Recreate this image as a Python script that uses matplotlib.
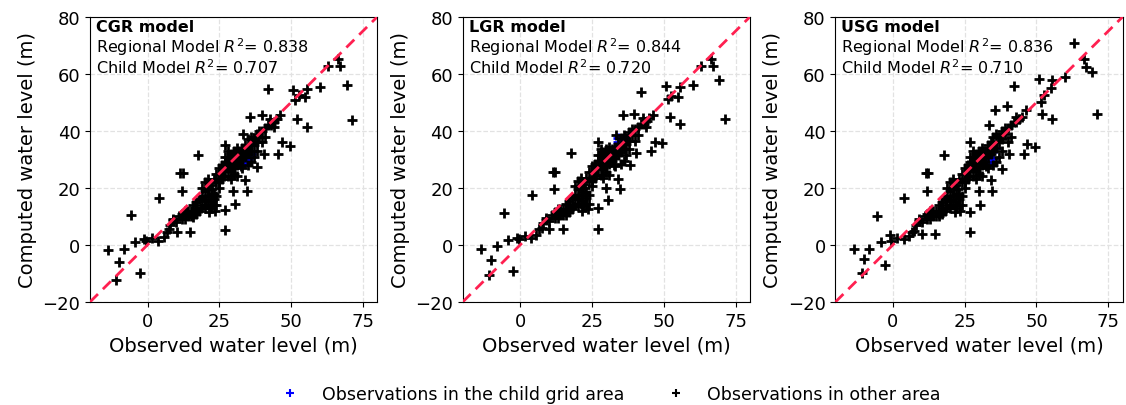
import matplotlib
matplotlib.use("Agg")
import matplotlib.pyplot as plt
from matplotlib.lines import Line2D

FIG_SIZE = (11.26, 4.06)
DPI = 100
LINE_RED = "#ff2050"

MODELS = ["CGR", "LGR", "USG"]
R2_REGIONAL = [0.838, 0.844, 0.836]
R2_CHILD = [0.707, 0.720, 0.710]

# observed heads outside the child grid (shared by all models)
obs_other = [
    -13.6, -10.1, -10.9, -8.2, -2.6, -5.7, -4.3, -1.1, 4.0, 3.8,
    5.6, 6.7, 10.2, 9.0, 14.8, 11.4, 12.2, 11.9, 13.7, 16.0,
    17.7, 27.0, 27.0, 29.9, 30.5, 34.6, 34.0, 33.4, 35.7, 39.8,
    42.1, 38.1, 40.4, 45.6, 46.8, 49.5, 43.9, 42.7, 46.2, 50.8,
    51.4, 52.0, 55.5, 52.6, 55.0, 55.5, 60.1, 63.0, 66.5, 67.1,
    69.4, 71.2, -0.5, 1.5, 7.5, 8.0, 18.5, 20.0, 21.5, 23.0,
    9.0, 10.0, 11.0, 12.0, 13.0, 14.0, 15.0, 16.0, 17.0, 15.0,
    17.0, 18.0, 19.0, 20.0, 20.0, 21.0, 21.0, 22.0, 22.0, 23.0,
    23.0, 24.0, 19.0, 18.0, 20.0, 21.0, 22.0, 22.0, 24.0, 25.0,
    24.0, 23.0, 21.0, 20.0, 19.0, 25.0, 26.0, 17.0, 16.0, 13.0,
    12.0, 14.0, 24.0, 25.0, 25.0, 26.0, 26.0, 27.0, 27.0, 27.0,
    27.0, 28.0, 28.0, 28.0, 28.0, 29.0, 29.0, 29.0, 29.0, 30.0,
    30.0, 30.0, 30.0, 31.0, 31.0, 31.0, 31.0, 32.0, 32.0, 32.0,
    33.0, 33.0, 33.0, 34.0, 34.0, 34.0, 35.0, 35.0, 35.0, 36.0,
    36.0, 36.0, 37.0, 37.0, 38.0, 38.0, 39.0, 39.0, 40.0, 41.0,
    42.0, 43.0, 44.0, 45.0, 38.0, 37.0, 36.0, 40.0, 41.0, 26.0,
    28.0, 30.0, 33.0, 35.0, 31.0, 29.0, 22.5, 23.5, 26.5, 32.5,
]

cgr_other = [
    -1.9, -6.0, -12.2, -1.5, -10.0, 10.6, 1.0, 2.0, 16.4, 1.3,
    2.8, 4.5, 4.5, 8.6, 4.5, 25.3, 25.3, 18.8, 11.5, 9.8,
    31.4, 5.1, 12.1, 18.8, 14.5, 18.8, 22.6, 39.0, 44.8, 45.4,
    54.8, 27.3, 32.0, 32.0, 36.1, 34.6, 41.3, 44.3, 45.4, 54.2,
    50.7, 44.0, 41.3, 52.5, 51.8, 54.8, 55.4, 62.9, 65.3, 62.9,
    56.2, 43.7, 1.5, 2.5, 5.5, 7.0, 13.0, 15.5, 11.5, 14.0,
    9.0, 8.0, 10.0, 9.0, 9.0, 10.0, 10.0, 11.0, 11.0, 12.0,
    13.0, 12.0, 14.0, 13.0, 16.0, 14.0, 17.0, 15.0, 18.0, 16.0,
    18.0, 17.0, 17.0, 16.0, 19.0, 20.0, 13.0, 21.0, 14.0, 20.0,
    22.0, 23.0, 23.0, 22.0, 20.0, 22.0, 24.0, 15.0, 14.0, 12.0,
    11.0, 12.0, 25.0, 25.0, 27.0, 26.0, 28.0, 26.0, 29.0, 31.0,
    35.0, 27.0, 29.0, 31.0, 33.0, 26.0, 28.0, 30.0, 32.0, 27.0,
    29.0, 31.0, 33.0, 28.0, 30.0, 32.0, 34.0, 29.0, 31.0, 33.0,
    30.0, 32.0, 34.0, 31.0, 33.0, 35.0, 32.0, 34.0, 37.0, 33.0,
    35.0, 38.0, 35.0, 37.0, 36.0, 39.0, 38.0, 40.0, 40.0, 41.0,
    42.0, 42.0, 43.0, 44.0, 33.0, 31.0, 29.0, 36.0, 38.0, 23.0,
    24.0, 25.0, 27.0, 28.0, 24.0, 23.0, 19.5, 12.0, 24.0, 27.5,
]

lgr_other = [
    -1.3, -5.4, -10.7, -0.4, -9.3, 11.2, 1.6, 2.4, 17.6, 2.4,
    3.5, 5.7, 5.7, 8.8, 5.7, 25.6, 25.6, 19.7, 12.0, 10.5,
    32.2, 5.7, 12.9, 20.0, 15.6, 19.7, 23.0, 38.6, 45.4, 46.0,
    53.6, 28.1, 32.3, 32.8, 36.1, 35.7, 41.3, 44.5, 45.4, 55.7,
    51.3, 44.8, 42.5, 52.4, 52.0, 55.4, 56.2, 62.9, 65.3, 62.9,
    57.7, 44.0, 2.0, 3.0, 6.0, 7.5, 13.5, 16.0, 12.0, 14.5,
    9.5, 8.5, 10.5, 9.5, 9.5, 10.5, 10.5, 11.5, 11.5, 12.5,
    13.5, 12.5, 14.5, 13.5, 16.5, 14.5, 17.5, 15.5, 18.5, 16.5,
    18.5, 17.5, 17.5, 16.5, 19.5, 20.5, 13.5, 21.5, 14.5, 20.5,
    22.5, 23.5, 23.5, 22.5, 20.5, 22.5, 24.5, 15.5, 14.5, 12.5,
    11.5, 12.5, 25.5, 25.5, 27.5, 26.5, 28.5, 26.5, 29.5, 31.5,
    36.0, 27.5, 29.5, 31.5, 33.5, 26.5, 28.5, 30.5, 32.5, 27.5,
    29.5, 31.5, 33.5, 28.5, 30.5, 32.5, 34.5, 29.5, 31.5, 33.5,
    30.5, 32.5, 34.5, 31.5, 33.5, 35.5, 32.5, 34.5, 37.5, 33.5,
    35.5, 38.5, 35.5, 37.5, 36.5, 39.5, 38.5, 40.5, 40.5, 41.5,
    42.5, 42.5, 43.5, 44.5, 33.5, 31.5, 29.5, 36.5, 38.5, 23.5,
    24.5, 25.5, 27.5, 28.5, 24.5, 23.5, 20.0, 12.5, 24.5, 28.0,
]

usg_other = [
    -1.5, -5.0, -10.0, -1.5, -7.1, 10.1, 1.0, 3.4, 16.4, 2.2,
    3.0, 4.5, 3.9, 8.5, 3.9, 25.3, 25.3, 18.8, 11.5, 10.0,
    31.4, 4.5, 11.5, 18.8, 13.9, 18.8, 22.6, 41.9, 47.2, 48.9,
    55.7, 26.7, 32.0, 32.0, 35.5, 34.3, 44.3, 45.0, 47.2, 58.3,
    50.3, 46.0, 44.3, 52.5, 55.0, 57.7, 58.9, 71.0, 65.3, 62.4,
    60.8, 46.0, 1.5, 2.5, 5.0, 7.0, 13.0, 15.5, 11.5, 14.0,
    9.0, 8.0, 10.0, 9.0, 9.0, 10.0, 10.0, 11.0, 11.0, 12.0,
    13.0, 12.0, 14.0, 13.0, 16.0, 14.0, 17.0, 15.0, 18.0, 16.0,
    18.0, 17.0, 17.0, 16.0, 19.0, 20.0, 13.0, 21.0, 14.0, 20.0,
    22.0, 23.0, 23.0, 22.0, 20.0, 22.0, 24.0, 15.0, 14.0, 12.0,
    11.0, 12.0, 25.0, 25.0, 27.0, 26.0, 28.0, 26.0, 29.0, 31.0,
    36.0, 27.0, 29.0, 31.0, 33.0, 26.0, 28.0, 30.0, 32.0, 27.0,
    29.0, 31.0, 33.0, 28.0, 30.0, 32.0, 34.0, 29.0, 31.0, 33.0,
    31.0, 33.0, 35.0, 32.0, 34.0, 36.0, 33.0, 35.0, 38.0, 34.0,
    36.0, 39.0, 36.0, 38.0, 37.0, 40.0, 39.0, 41.0, 41.0, 42.0,
    43.0, 43.0, 44.0, 45.0, 33.0, 31.0, 29.0, 36.0, 38.0, 23.0,
    24.0, 25.0, 27.0, 28.0, 24.0, 23.0, 19.5, 12.0, 24.0, 27.5,
]

# observations inside the child grid area
obs_child = [30.0, 31.0, 32.0, 33.0, 34.0, 34.0, 35.0, 36.0, 33.0, 32.0]
cgr_child = [29.0, 30.0, 31.0, 30.0, 29.0, 31.0, 30.0, 32.0, 28.0, 29.0]
lgr_child = [31.0, 32.0, 33.0, 34.5, 37.5, 36.0, 35.0, 36.5, 31.5, 33.0]
usg_child = [30.0, 31.5, 31.0, 31.4, 29.0, 33.0, 30.5, 34.0, 28.5, 30.0]

COMPUTED_OTHER = [cgr_other, lgr_other, usg_other]
COMPUTED_CHILD = [cgr_child, lgr_child, usg_child]

AX_LEFTS = [0.080, 0.411, 0.742]
AX_BOTTOM = 0.254
AX_W = 0.255
AX_H = 0.702


def draw_panel(ax, name, r2_reg, r2_child, comp_other, comp_child):
    ax.grid(True, linestyle="--", color="#e2e2e2", linewidth=0.9, zorder=0)
    ax.scatter(obs_child, comp_child, marker="+", color="blue", s=45,
               linewidths=2.0, zorder=2)
    ax.scatter(obs_other, comp_other, marker="+", color="black", s=45,
               linewidths=2.0, zorder=3)
    ax.plot([-20, 80], [-20, 80], linestyle="--", color=LINE_RED,
            linewidth=2.0, dashes=(4, 2.5), zorder=4)

    ax.set_xlim(-20, 80)
    ax.set_ylim(-20, 80)
    ax.set_xticks([0, 25, 50, 75])
    ax.set_yticks([-20, 0, 20, 40, 60, 80])
    ax.tick_params(labelsize=13)
    ax.set_xlabel("Observed water level (m)", fontsize=14)
    ax.set_ylabel("Computed water level (m)", fontsize=14)

    # one text per line so the mathtext superscript doesn't stretch spacing
    ax.text(0.02, 0.950, f"{name} model", transform=ax.transAxes,
            fontsize=11.5, fontweight="bold", va="baseline", ha="left", zorder=5)
    ax.text(0.02, 0.875, f"Regional Model $R^2$= {r2_reg:.3f}",
            transform=ax.transAxes, fontsize=11.5, va="baseline", ha="left",
            zorder=5)
    ax.text(0.02, 0.803, f"Child Model $R^2$= {r2_child:.3f}",
            transform=ax.transAxes, fontsize=11.5, va="baseline", ha="left",
            zorder=5)


fig = plt.figure(figsize=FIG_SIZE, dpi=DPI)
for i, name in enumerate(MODELS):
    ax = fig.add_axes([AX_LEFTS[i], AX_BOTTOM, AX_W, AX_H])
    draw_panel(ax, name, R2_REGIONAL[i], R2_CHILD[i],
               COMPUTED_OTHER[i], COMPUTED_CHILD[i])

handles = [
    Line2D([], [], marker="+", color="blue", linestyle="none",
           markersize=6, markeredgewidth=1.5),
    Line2D([], [], marker="+", color="black", linestyle="none",
           markersize=6, markeredgewidth=1.5),
]
fig.legend(handles, ["Observations in the child grid area",
                     "Observations in other area"],
           loc="center", bbox_to_anchor=(0.539, 0.027), ncol=2,
           frameon=False, fontsize=12.5, columnspacing=2.0)

fig.savefig("out.png", dpi=DPI)
